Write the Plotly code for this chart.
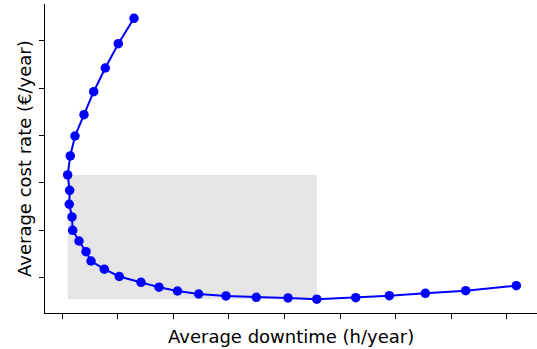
import plotly.graph_objects as go

# Trade-off curve: average downtime vs. average cost rate
downtime = [1.291, 1.008, 0.774, 0.565, 0.391, 0.229, 0.144, 0.097, 0.133, 0.126,
            0.175, 0.187, 0.301, 0.427, 0.517, 0.756, 1.026, 1.417, 1.741, 2.074,
            2.455, 2.947, 3.492, 4.063, 4.581, 5.282, 5.887, 6.535, 7.262, 8.173]
cost_rate = [6.473, 5.937, 5.424, 4.924, 4.439, 3.989, 3.568, 3.167, 2.844, 2.549,
             2.281, 2.000, 1.774, 1.549, 1.352, 1.179, 1.025, 0.903, 0.800, 0.719,
             0.656, 0.614, 0.586, 0.572, 0.546, 0.578, 0.620, 0.671, 0.726, 0.831]
x_ticks = [0, 1, 2, 3, 4, 5, 6, 7, 8]
y_ticks = [1, 2, 3, 4, 5, 6]

# Shaded region between the minimum-downtime and minimum-cost solutions
i_min_x = downtime.index(min(downtime))
i_min_y = cost_rate.index(min(cost_rate))
rect_x0, rect_x1 = downtime[i_min_x], downtime[i_min_y]
rect_y0, rect_y1 = cost_rate[i_min_y], cost_rate[i_min_x]

font = dict(family="DejaVu Sans", size=18, color="black")

fig = go.Figure()
fig.add_shape(type="rect", x0=rect_x0, x1=rect_x1, y0=rect_y0, y1=rect_y1,
              fillcolor="#e5e5e5", line=dict(width=0), layer="below")
fig.add_trace(go.Scatter(
    x=downtime, y=cost_rate, mode="lines+markers",
    line=dict(color="#0000ff", width=2),
    marker=dict(color="#0000ff", size=9.5),
    showlegend=False, hoverinfo="skip",
))

axis_common = dict(
    showgrid=False, zeroline=False, showline=True, linecolor="black",
    linewidth=1, ticks="outside", ticklen=5, tickwidth=1, tickcolor="black",
    showticklabels=False, mirror=False, tickmode="array",
)
fig.update_xaxes(range=[-0.311, 8.545], tickvals=x_ticks, **axis_common)
fig.update_yaxes(range=[0.255, 6.774], tickvals=y_ticks, **axis_common)

fig.update_layout(
    width=537, height=349,
    margin=dict(l=45, r=0, t=4, b=36),
    paper_bgcolor="white", plot_bgcolor="white",
    font=font,
    annotations=[
        dict(text="Average downtime (h/year)", xref="paper", yref="paper",
             x=0.5, y=-0.075, xanchor="center", yanchor="middle",
             showarrow=False, font=font),
        dict(text="Average cost rate (€/year)", xref="paper", yref="paper",
             x=-0.0417, y=0.5, xanchor="center", yanchor="middle",
             textangle=-90, showarrow=False, font=font),
    ],
)

fig.write_html("out.html")
